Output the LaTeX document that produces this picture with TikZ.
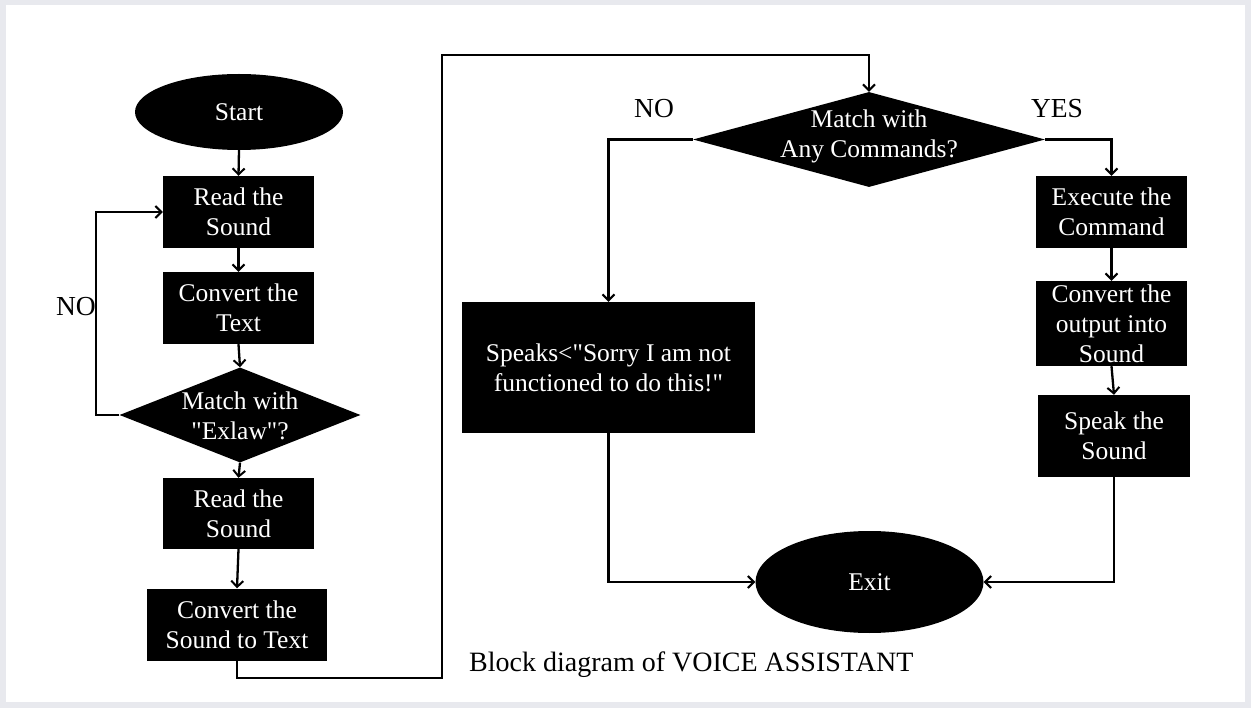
\documentclass[tikz,border=0pt]{standalone}
\usepackage{fontspec}
\setmainfont{Liberation Serif}[Ligatures=TeXOff]
\usetikzlibrary{shapes.geometric,arrows.meta}
\definecolor{framegray}{HTML}{E8E9EE}
\begin{document}
\begin{tikzpicture}[x=1pt,y=-1pt,
  boxtext/.style={text=white,align=center,font=\fontsize{25.5}{30}\selectfont},
  blk/.style={boxtext,rectangle,fill=black,inner sep=0pt},
  oval/.style={boxtext,ellipse,fill=black,inner sep=0pt},
  dia/.style={diamond,fill=black,inner sep=0pt},
  lbl/.style={font=\fontsize{27.5}{32}\selectfont,inner sep=0pt},
  conn/.style={line width=2.3pt},
  arr/.style={conn,-{Straight Barb[length=6pt,width=12pt,line width=2pt]}}]
\fill[framegray] (0,0) rectangle (1251,708);
\fill[white] (6,5) rectangle (1245,702);
\useasboundingbox (0,0) rectangle (1251,708);
% left column
\node[oval,minimum width=208pt,minimum height=76pt] (start) at (239,112) {Start};
\node[blk,minimum width=151pt,minimum height=72pt] (r1) at (238.5,212) {Read the\\Sound};
\node[blk,minimum width=151pt,minimum height=72pt] (c1) at (238.5,308) {Convert the\\Text};
\node[dia,minimum width=241pt,minimum height=95pt,
  label={[boxtext,inner sep=0pt,yshift=-1pt]center:Match with\\ "Exlaw"?}] (d1) at (240,415) {};
\node[blk,minimum width=151pt,minimum height=71pt] (r2) at (238.5,513.5) {Read the\\Sound};
\node[blk,minimum width=180pt,minimum height=72pt] (c2) at (237,624.5) {Convert the\\Sound to Text};
% right part
\node[dia,minimum width=352pt,minimum height=95pt,
  label={[boxtext,inner sep=0pt,yshift=3pt]center:Match with\\Any Commands?}] (d2) at (869,139.5) {};
\node[blk,minimum width=293pt,minimum height=131pt] (spk) at (608.5,367.5) {Speaks<"Sorry I am not\\functioned to do this!"};
\node[blk,minimum width=151pt,minimum height=72pt] (ex1) at (1111.5,212) {Execute the\\Command};
\node[blk,minimum width=151pt,minimum height=85pt] (co2) at (1111.5,323.5) {Convert the\\output into\\Sound};
\node[blk,minimum width=152pt,minimum height=82pt] (sp2) at (1114,436) {Speak the\\Sound};
\node[oval,minimum width=228pt,minimum height=102pt] (exit) at (869.5,582) {Exit};
% labels
\node[lbl] (no1) at (76,307) {NO};
\node[lbl] (no2) at (654,109) {NO};
\node[lbl] (yes) at (1057,109) {YES};
\node[lbl,anchor=base west,font=\fontsize{28}{32}\selectfont] (cap) at (469,671) {Block diagram of VOICE ASSISTANT};
% coordinates
\coordinate (lp) at (96,300);
\coordinate (bl) at (442,678);
\coordinate (tl) at (442,55);
% connectors
\draw[arr] (start.south) -- (r1.north);
\draw[arr] (r1.south) -- (c1.north);
\draw[arr] (c1.south) -- (d1.north);
\draw[arr] (d1.south) -- (r2.north);
\draw[arr] (r2.south) -- (c2.north);
\draw[arr] (d1.west) -| (lp) |- (r1.west);
\draw[arr] (c2.south) |- (bl) -- (tl) -| (d2.north);
\draw[arr] (d2.west) -| (spk.north);
\draw[arr] (d2.east) -| (ex1.north);
\draw[arr] (ex1.south) -- (co2.north);
\draw[arr] (co2.south) -- (sp2.north);
\draw[arr] (spk.south) |- (exit.west);
\draw[arr] (sp2.south) |- (exit.east);
\end{tikzpicture}
\end{document}
